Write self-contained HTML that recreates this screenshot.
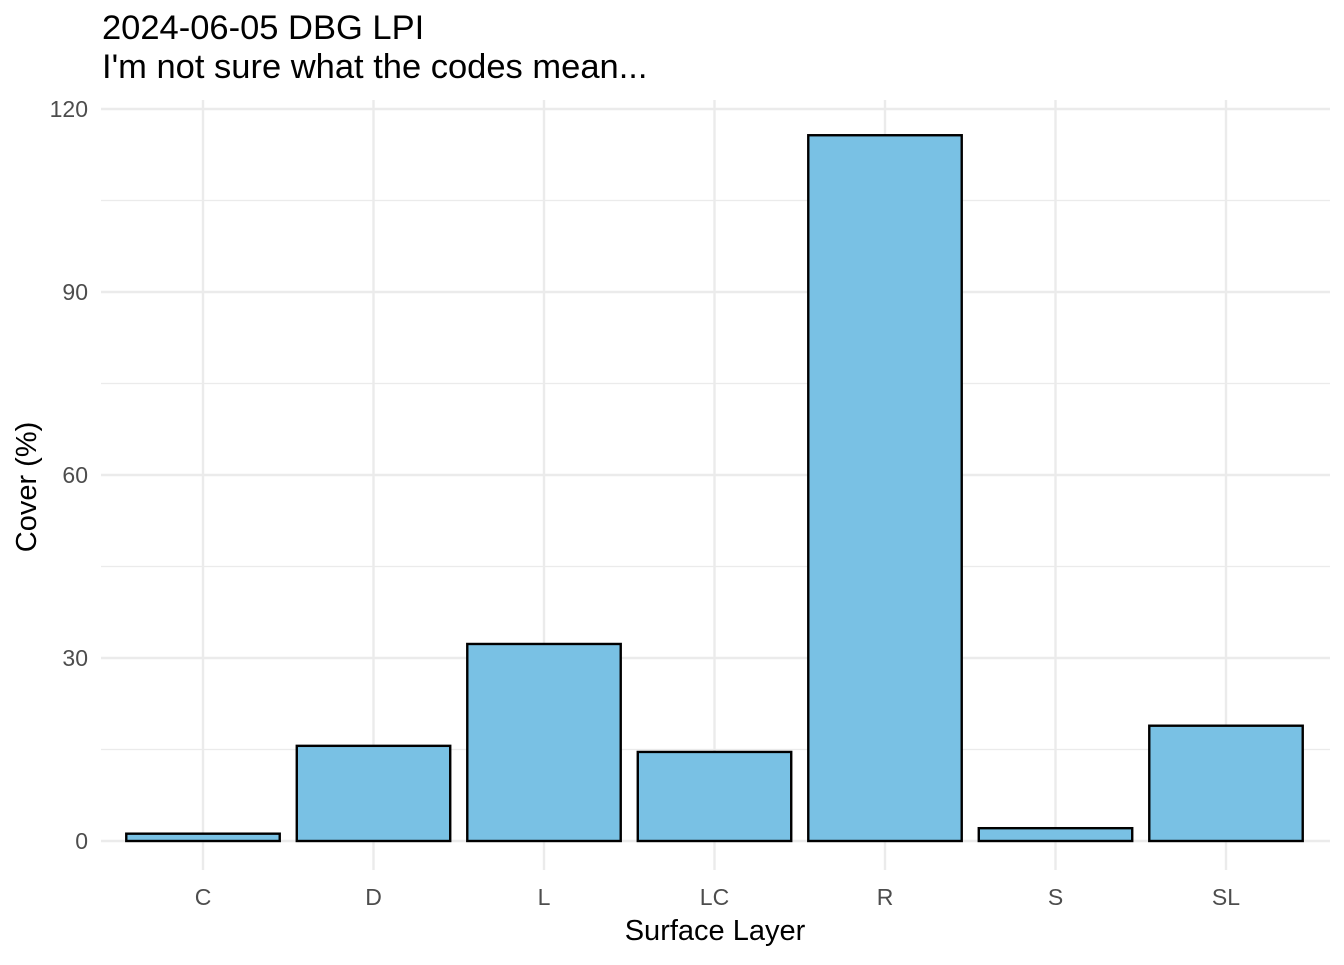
<!DOCTYPE html>
<html><head><meta charset="utf-8"><style>
body{margin:0;background:#fff;}
svg text{font-family:"Liberation Sans",Arial,sans-serif;}
</style></head><body>
<svg id="chart" width="1344" height="960" xmlns="http://www.w3.org/2000/svg">
<rect width="1344" height="960" fill="#fff"/>
<text x="102" y="39" font-size="34.5" fill="#000">2024-06-05 DBG LPI</text>
<text x="102" y="78" font-size="34.5" fill="#000">I'm not sure what the codes mean...</text>
<g id="grid"></g><g id="bars"></g><g id="axes"></g>
<text x="715" y="940" font-size="29" text-anchor="middle" fill="#000">Surface Layer</text>
<text transform="translate(36,487) rotate(-90)" font-size="29" text-anchor="middle" fill="#000">Cover (%)</text>
</svg>
<script>
const categories=["C","D","L","LC","R","S","SL"];
const values=[1.2,15.6,32.3,14.6,115.7,2.1,18.9];
const yTicks=[0,30,60,90,120];
const yMinor=[15,45,75,105];
const NS="http://www.w3.org/2000/svg";
const x0=101,x1=1330,yBase=841,yTop=109;
const step=170.5, firstCenter=203;
function xs(i){return firstCenter+step*i;}
function ys(v){return yBase-(yBase-yTop)*v/120;}
function mk(tag,attrs,parent){const e=document.createElementNS(NS,tag);for(const k in attrs)e.setAttribute(k,attrs[k]);document.getElementById(parent).appendChild(e);return e;}
yMinor.forEach(v=>{const l=mk('line',{x1:x0,x2:x1,y1:ys(v),y2:ys(v),stroke:'#ebebeb','stroke-width':1.2},'grid');

});
yTicks.forEach(v=>{const l=mk('line',{x1:x0,x2:x1,y1:ys(v),y2:ys(v),stroke:'#ebebeb','stroke-width':2.4},'grid');


const t=mk('text',{x:88,y:ys(v)+8,'font-size':23,'text-anchor':'end',fill:'#4d4d4d'},'axes');t.textContent=v;

});
categories.forEach((c,i)=>{const l=mk('line',{x1:xs(i),x2:xs(i),y1:100,y2:870,stroke:'#ebebeb','stroke-width':2.4},'grid');


const bw=step*0.9;
const b=mk('rect',{x:xs(i)-bw/2,y:ys(values[i]),width:bw,height:yBase-ys(values[i]),fill:'#79c1e4',stroke:'#000','stroke-width':2.4},'bars');


const t=mk('text',{x:xs(i),y:905,'font-size':23,'text-anchor':'middle',fill:'#4d4d4d'},'axes');t.textContent=c;

});
</script>
</body></html>
